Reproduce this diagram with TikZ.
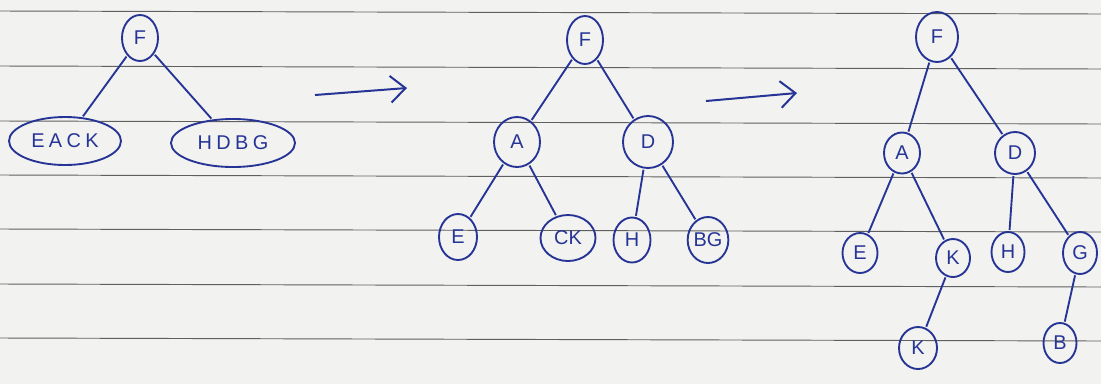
\documentclass[tikz,border=0pt]{standalone}
\usepackage{fontspec}
\setmainfont{Liberation Sans}
\usetikzlibrary{shapes.geometric,arrows.meta}
\definecolor{ink}{RGB}{38,52,150}
\definecolor{paper}{RGB}{242,242,240}
\definecolor{rule}{RGB}{95,95,95}
\tikzset{
  nd/.style 2 args={ellipse,draw=ink,line width=1.6pt,text=ink,inner sep=0pt,
    minimum width=#1*0.03cm,minimum height=#2*0.03cm,
    font=\fontsize{17}{20}\selectfont},
  wide/.style={font=\fontsize{17}{20}\selectfont\addfontfeatures{LetterSpace=22}},
  edge/.style={draw=ink,line width=1.6pt,shorten <=1pt,shorten >=1pt},
  trans/.style={draw=ink,line width=1.7pt,-{Straight Barb[length=4.5mm,width=8mm,line width=1.7pt]}},
  ruled/.style={draw=rule,line width=0.8pt}
}
\begin{document}
\begin{tikzpicture}[x=0.03cm,y=-0.03cm]
\fill[paper] (0,0) rectangle (1101,384);
\useasboundingbox (0,0) rectangle (1101,384);
% ruled lines
\foreach \yy in {11,66,121,175,229,284,338}
  \draw[ruled] (0,\yy) -- (1101,\yy+3);

% tree 1
\node[nd={36}{46}] (t1F) at (140,38) {F};
\node[nd={112}{48},wide] (t1L) at (65,141) {EACK};
\node[nd={124}{48},wide] (t1R) at (233,143) {HDBG};
\draw[edge] (t1F) -- (t1L);
\draw[edge] (t1F) -- (t1R);

% arrow 1
\coordinate (a1s) at (315,95);
\coordinate (a1e) at (407,88);
\draw[trans] (a1s) -- (a1e);

% tree 2
\node[nd={36}{48}] (t2F) at (585,40) {F};
\node[nd={46}{50}] (t2A) at (517,142) {A};
\node[nd={50}{52}] (t2D) at (648,142) {D};
\node[nd={38}{46}] (t2E) at (458,237) {E};
\node[nd={55}{46}] (t2C) at (568,238) {CK};
\node[nd={37}{45}] (t2H) at (632,240) {H};
\node[nd={38}{46}] (t2B) at (708,240) {BG};
\draw[edge] (t2F) -- (t2A);
\draw[edge] (t2F) -- (t2D);
\draw[edge] (t2A) -- (t2E);
\draw[edge] (t2A) -- (t2C);
\draw[edge] (t2D) -- (t2H);
\draw[edge] (t2D) -- (t2B);

% arrow 2
\coordinate (a2s) at (706,101);
\coordinate (a2e) at (797,93);
\draw[trans] (a2s) -- (a2e);

% tree 3
\node[nd={42}{50}] (t3F) at (937,37) {F};
\node[nd={36}{41}] (t3A) at (902,153) {A};
\node[nd={40}{42}] (t3D) at (1015,153) {D};
\node[nd={35}{40}] (t3E) at (860,253) {E};
\node[nd={34}{38}] (t3K) at (953,258) {K};
\node[nd={33}{40}] (t3H) at (1008,252) {H};
\node[nd={34}{42}] (t3G) at (1080,253) {G};
\node[nd={38}{42}] (t3C) at (918,348) {K};
\node[nd={33}{40}] (t3B) at (1060,343) {B};
\draw[edge] (t3F) -- (t3A);
\draw[edge] (t3F) -- (t3D);
\draw[edge] (t3A) -- (t3E);
\draw[edge] (t3A) -- (t3K);
\draw[edge] (t3D) -- (t3H);
\draw[edge] (t3D) -- (t3G);
\draw[edge] (t3K) -- (t3C);
\draw[edge] (t3G) -- (t3B);
\end{tikzpicture}
\end{document}
